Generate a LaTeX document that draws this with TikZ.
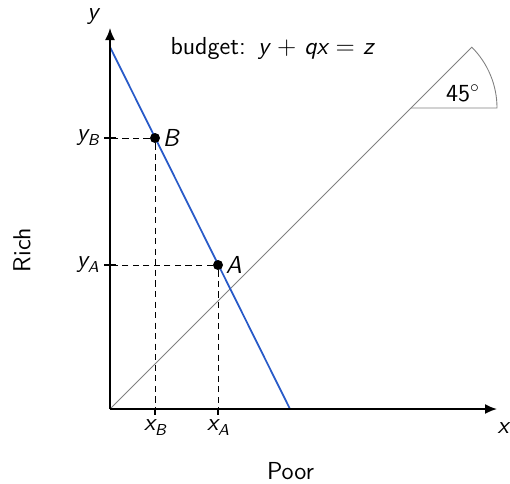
\documentclass[tikz,border=0pt]{standalone}
\usepackage{tikz}
\usetikzlibrary{arrows.meta}
\renewcommand{\familydefault}{\sfdefault}
\definecolor{budgetblue}{RGB}{40,90,200}
\newcommand{\var}[1]{{\slshape #1}}
\newcommand{\sub}[2]{\var{#1}\raisebox{-0.45ex}{\small\var{#2}}}

\begin{document}
\begin{tikzpicture}[font=\fontsize{14}{16}\selectfont,
  axis/.style={line width=1pt,-{Latex[length=2.4mm,width=2mm]}},
  guide/.style={dash pattern=on 3.5pt off 2.5pt,line width=0.5pt},
  tick/.style={line width=0.8pt},
  dot/.style={circle,fill,inner sep=0pt,minimum size=2mm}]
\useasboundingbox (-2.2,-1.48) rectangle (8.0,8.18);
\coordinate (O) at (0,0);
\coordinate (xend) at (7.74,0);
\coordinate (yend) at (0,7.62);
\coordinate (top) at (0,7.24);
\coordinate (bottom) at (3.6,0);
\coordinate (C) at (6.02,6.02);
\coordinate (D) at (7.24,7.24);
% the 45 degree line
\draw [gray,line width=0.5pt] (O) -- (D);
\draw [gray,line width=0.5pt] (C) -- ++(1.72,0) arc (0:45:1.72);
\node at (7.06,6.32) {45$^\circ$};
% budget line
\draw [budgetblue,line width=1pt] (top) -- (bottom);
\node at (3.24,7.22) {budget:\enspace\var{y} $+$ \var{qx} $=$ \var{z}};
% the two points
\node [dot] (B) at (0.9,5.42) {};
\node [dot] (A) at (2.16,2.88) {};
\node [right=1pt] at (B) {\var{B}};
\node [right=1pt] at (A) {\var{A}};
\coordinate (xB) at (0.9,0);
\coordinate (xA) at (2.16,0);
\coordinate (yB) at (0,5.42);
\coordinate (yA) at (0,2.88);
\draw [guide] (B) -- (xB) (B) -- (yB);
\draw [guide] (A) -- (xA) (A) -- (yA);
\draw [tick] (xB) -- ++(0,-0.12) (xA) -- ++(0,-0.12);
\draw [tick] (yB) ++(-0.12,0) -- ++(0.24,0) (yA) ++(-0.12,0) -- ++(0.24,0);
\node [below] at (0.9,-0.08) {\sub{x}{B}};
\node [below] at (2.16,-0.08) {\sub{x}{A}};
\node [left] at (-0.1,5.42) {\sub{y}{B}};
\node [left] at (-0.1,2.88) {\sub{y}{A}};
% axes
\draw [axis] (O) -- (xend);
\draw [axis] (O) -- (yend);
\node at (7.86,-0.38) {\var{x}};
\node at (-0.34,7.84) {\var{y}};
\node [rotate=90] at (-1.76,3.18) {Rich};
\node at (3.61,-1.24) {Poor};
\end{tikzpicture}
\end{document}
